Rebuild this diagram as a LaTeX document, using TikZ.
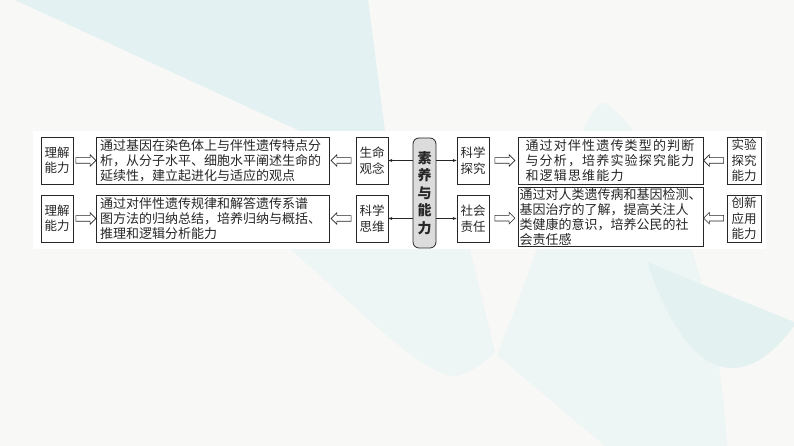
\documentclass[tikz,border=0pt]{standalone}
\usepackage{fontspec}
\setmainfont{Noto Sans CJK SC}
\usetikzlibrary{positioning,arrows.meta,shapes.arrows}
\usepackage{xcolor}
\definecolor{paper}{HTML}{F8F8F7}
\definecolor{washA}{HTML}{E3F1F2}
\definecolor{washB}{HTML}{EDF5F5}
\definecolor{washC}{HTML}{E3F1F1}
\definecolor{ink}{HTML}{262626}
\definecolor{corefill}{HTML}{DCDCDC}

\begin{document}
\begin{tikzpicture}[x=1pt,y=-1pt,
    abil/.style={draw=ink, line width=0.8pt, minimum width=32pt, minimum height=47pt,
        inner sep=0pt, align=center, text=ink, font=\fontsize{12.5}{15.5}\selectfont},
    txtbox/.style={draw=ink, line width=0.8pt, minimum height=47pt, inner xsep=4pt,
        inner ysep=1pt, align=left, text=ink, font=\fontsize{13}{15}\selectfont},
    core/.style={draw=ink, line width=0.8pt, fill=corefill, rounded corners=6pt,
        minimum width=23pt, minimum height=110pt, inner sep=0pt, align=center,
        text=ink, font=\bfseries\fontsize{14}{17.5}\selectfont},
    hollow/.style={single arrow, draw=ink, line width=0.6pt, fill=white,
        minimum height=20pt, inner sep=2.5pt, single arrow head extend=3pt},
    link/.style={-{Stealth[length=4pt,width=3pt]}, line width=0.5pt, draw=ink}]
    \useasboundingbox (0,0) rectangle (794,446);

    % slide background
    \fill[paper] (0,0) rectangle (794,446);
    \fill[washA] (15,0) -- (368,0) -- (385,131) -- (300,131) -- cycle;
    \fill[washB] (290,249) .. controls (350,300) and (430,385) .. (460,375)
        .. controls (475,370) and (485,362) .. (495,352) -- (470,249) -- cycle;
    \fill[washB] (497,355) .. controls (540,250) and (585,100) .. (603,103)
        .. controls (630,110) and (715,230) .. (727,446) -- (605,446) -- cycle;
    \fill[washC] (647,262) .. controls (670,330) and (700,370) .. (735,368)
        .. controls (760,366) and (780,345) .. (794,326) -- (794,322) -- cycle;
    \fill[white] (33,131) rectangle (766,249);

    % centre
    \node[core] (core) at (424.5,193) {素\\养\\与\\能\\力};

    % left half
    \node[abil] (gn) at (372,160.5) {生命\\观念};
    \node[abil] (kx) at (372,218.5) {科学\\思维};
    \node[txtbox, text width=225pt] (gnt) at (212.5,160.5)
        {通过基因在染色体上与伴性遗传特点分\\析，从分子水平、细胞水平阐述生命的\\延续性，建立起进化与适应的观点};
    \node[txtbox, text width=225pt] (kxt) at (212.5,218.5)
        {通过对伴性遗传规律和解答遗传系谱\\图方法的归纳总结，培养归纳与概括、\\推理和逻辑分析能力};
    \node[abil] (lj1) at (57,160.5) {理解\\能力};
    \node[abil] (lj2) at (57,218.5) {理解\\能力};

    % right half
    \node[abil] (tj) at (473,160.5) {科学\\探究};
    \node[abil] (zr) at (473,218.5) {社会\\责任};
    \node[txtbox, text width=170pt, inner xsep=7.5pt] (tjt) at (610.5,160.5)
        {\addfontfeature{LetterSpace=9}通过对伴性遗传类型的判断\\与分析，培养实验探究能力\\和逻辑思维能力};
    \node[txtbox, text width=182pt, inner xsep=1.5pt, minimum height=58pt] (zrt) at (610.5,217)
        {通过对人类遗传病和基因检测、\\基因治疗的了解，提高关注人\\类健康的意识，培养公民的社\\会责任感};
    \node[abil, minimum width=34pt] (sy) at (744,160.5) {实验\\探究\\能力};
    \node[abil, minimum width=34pt] (cx) at (744,218.5) {创新\\应用\\能力};

    % connectors
    \draw[link] (core.west |- gn.east) -- (gn.east);
    \draw[link] (core.west |- kx.east) -- (kx.east);
    \draw[link] (core.east |- tj.west) -- (tj.west);
    \draw[link] (core.east |- zr.west) -- (zr.west);

    \path (lj1) -- node[hollow] (h1) {} (gnt);
    \path (lj2) -- node[hollow] (h2) {} (kxt);
    \path (gnt) -- node[hollow, shape border rotate=180] (h3) {} (gn);
    \path (kxt) -- node[hollow, shape border rotate=180] (h4) {} (kx);
    \path (tj) -- node[hollow] (h5) {} (tjt);
    \path (zr) -- node[hollow] (h6) {} (zrt);
    \path (tjt) -- node[hollow, shape border rotate=180] (h7) {} (sy);
    \path (zrt) -- node[hollow, shape border rotate=180] (h8) {} (cx);
\end{tikzpicture}
\end{document}
